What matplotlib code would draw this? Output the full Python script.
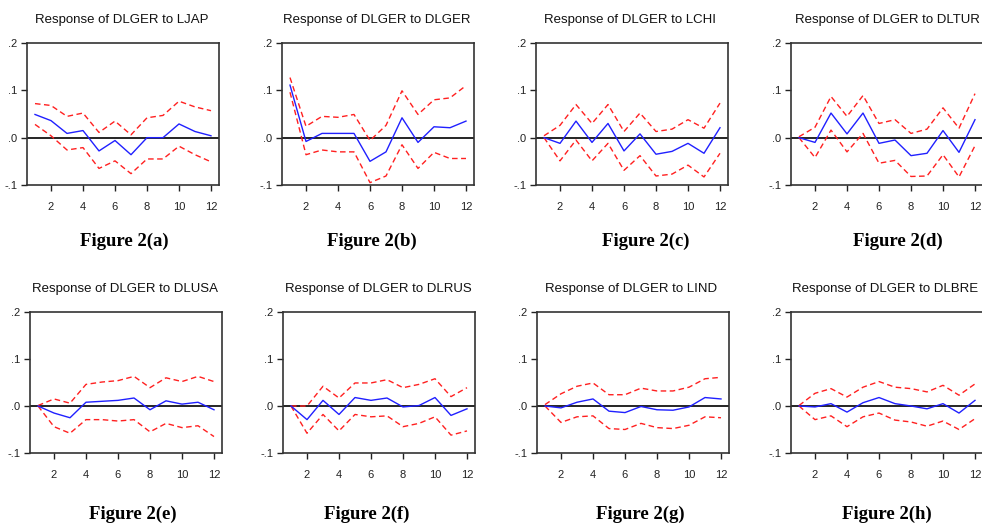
import numpy as np
import matplotlib
matplotlib.use("Agg")
import matplotlib.pyplot as plt

# impulse responses (periods 1..12)
periods = list(range(1, 13))

titles = ["Response of DLGER to LJAP", "Response of DLGER to DLGER",
          "Response of DLGER to LCHI", "Response of DLGER to DLTUR",
          "Response of DLGER to DLUSA", "Response of DLGER to DLRUS",
          "Response of DLGER to LIND", "Response of DLGER to DLBRE"]
captions = ["Figure 2(a)", "Figure 2(b)", "Figure 2(c)", "Figure 2(d)",
            "Figure 2(e)", "Figure 2(f)", "Figure 2(g)", "Figure 2(h)"]

resp_jap = [0.049, 0.036, 0.009, 0.015, -0.028, -0.006, -0.036, 0.0, 0.0, 0.029, 0.013, 0.004]
up_jap = [0.072, 0.068, 0.045, 0.052, 0.011, 0.035, 0.006, 0.042, 0.047, 0.077, 0.065, 0.057]
lo_jap = [0.028, 0.004, -0.026, -0.021, -0.065, -0.049, -0.076, -0.045, -0.045, -0.018, -0.036, -0.051]

resp_ger = [0.111, -0.008, 0.009, 0.009, 0.009, -0.050, -0.030, 0.042, -0.010, 0.023, 0.021, 0.035]
up_ger = [0.127, 0.024, 0.045, 0.043, 0.049, -0.006, 0.026, 0.099, 0.049, 0.080, 0.084, 0.110]
lo_ger = [0.096, -0.036, -0.026, -0.030, -0.030, -0.095, -0.081, -0.015, -0.065, -0.031, -0.044, -0.044]

resp_chi = [0.0, -0.012, 0.035, -0.010, 0.030, -0.028, 0.008, -0.035, -0.029, -0.012, -0.033, 0.021]
up_chi = [0.004, 0.026, 0.070, 0.030, 0.070, 0.013, 0.052, 0.013, 0.018, 0.038, 0.020, 0.073]
lo_chi = [0.0, -0.049, -0.005, -0.049, -0.012, -0.069, -0.038, -0.081, -0.077, -0.058, -0.083, -0.033]

resp_tur = [0.0, -0.010, 0.052, 0.008, 0.052, -0.012, -0.005, -0.038, -0.033, 0.015, -0.031, 0.038]
up_tur = [0.002, 0.022, 0.087, 0.045, 0.089, 0.030, 0.038, 0.009, 0.018, 0.063, 0.020, 0.093]
lo_tur = [0.0, -0.042, 0.016, -0.030, 0.009, -0.054, -0.048, -0.082, -0.081, -0.036, -0.083, -0.017]

resp_usa = [0.0, -0.015, -0.025, 0.008, 0.010, 0.012, 0.017, -0.008, 0.011, 0.004, 0.008, -0.008]
up_usa = [0.001, 0.015, 0.006, 0.046, 0.051, 0.054, 0.063, 0.039, 0.060, 0.052, 0.063, 0.052]
lo_usa = [0.0, -0.044, -0.058, -0.029, -0.029, -0.032, -0.029, -0.055, -0.037, -0.046, -0.042, -0.065]

resp_rus = [0.0, -0.029, 0.012, -0.018, 0.018, 0.012, 0.017, -0.002, 0.001, 0.018, -0.020, -0.006]
up_rus = [0.0, 0.0, 0.042, 0.017, 0.049, 0.049, 0.056, 0.039, 0.046, 0.058, 0.020, 0.039]
lo_rus = [0.0, -0.058, -0.018, -0.053, -0.018, -0.023, -0.021, -0.044, -0.037, -0.023, -0.062, -0.053]

resp_ind = [0.0, -0.004, 0.008, 0.015, -0.011, -0.014, -0.001, -0.008, -0.009, -0.002, 0.018, 0.015]
up_ind = [0.003, 0.026, 0.042, 0.049, 0.024, 0.024, 0.038, 0.032, 0.032, 0.040, 0.058, 0.061]
lo_ind = [0.0, -0.035, -0.023, -0.021, -0.048, -0.050, -0.037, -0.046, -0.048, -0.041, -0.023, -0.025]

resp_bre = [0.0, -0.002, 0.005, -0.013, 0.007, 0.018, 0.005, 0.0, -0.006, 0.005, -0.015, 0.012]
up_bre = [0.001, 0.027, 0.037, 0.019, 0.040, 0.052, 0.040, 0.037, 0.030, 0.044, 0.023, 0.047]
lo_bre = [0.0, -0.029, -0.021, -0.044, -0.023, -0.015, -0.030, -0.034, -0.043, -0.032, -0.050, -0.027]

responses = [resp_jap, resp_ger, resp_chi, resp_tur, resp_usa, resp_rus, resp_ind, resp_bre]
uppers = [up_jap, up_ger, up_chi, up_tur, up_usa, up_rus, up_ind, up_bre]
lowers = [lo_jap, lo_ger, lo_chi, lo_tur, lo_usa, lo_rus, lo_ind, lo_bre]

W, H = 982, 524
fig = plt.figure(figsize=(W / 100, H / 100), dpi=100)

title_font = ["Liberation Sans Narrow", "Liberation Sans", "DejaVu Sans"]

# panel placement in pixels: left, top, bottom
lefts = [27, 282, 536, 791, 30, 283, 537, 791]
tops = [43, 43, 43, 43, 312, 312, 312, 312]
bottoms = [185, 185, 185, 185, 453, 453, 453, 453]
title_x = [122, 377, 630, 887, 125, 378, 631, 885]
cap_x = [124, 372, 646, 898, 133, 367, 640, 887]
pw = 192

for i in range(8):
    l, t, b = lefts[i], tops[i], bottoms[i]
    ax = fig.add_axes([l / W, 1 - b / H, pw / W, (b - t) / H])
    ax.plot(periods, uppers[i], color="#ff2020", lw=1.0, ls=(0, (4, 2.5)))
    ax.plot(periods, lowers[i], color="#ff2020", lw=1.0, ls=(0, (4, 2.5)))
    ax.plot(periods, responses[i], color="#2020ff", lw=1.0)
    ax.axhline(0, color="black", lw=1.2, zorder=1)
    ax.set_xlim(0.5, 12.5)
    ax.set_ylim(-0.1, 0.2)
    ax.set_xticks([2, 4, 6, 8, 10, 12])
    ax.set_yticks([0.2, 0.1, 0.0, -0.1])
    ax.set_yticklabels([".2", ".1", ".0", "-.1"])
    ax.tick_params(direction="out", length=4, width=1, labelsize=8,
                   colors="#222222", pad=3)
    for s in ax.spines.values():
        s.set_color("#333333")
        s.set_linewidth(1.2)
    for lab in ax.get_xticklabels() + ax.get_yticklabels():
        lab.set_family(title_font)
    ax.tick_params(axis="x", pad=8)

    ty = 20 if i < 4 else 289
    fig.text(title_x[i] / W, 1 - ty / H, titles[i], ha="center", va="center",
             fontsize=9.5, family=title_font, color="#111111")
    cy = 241 if i < 4 else 514
    fig.text(cap_x[i] / W, 1 - cy / H, captions[i], ha="center", va="center",
             fontsize=13.5, fontweight="bold", family=["Liberation Serif", "DejaVu Serif"])

fig.savefig("out.png", dpi=100)
